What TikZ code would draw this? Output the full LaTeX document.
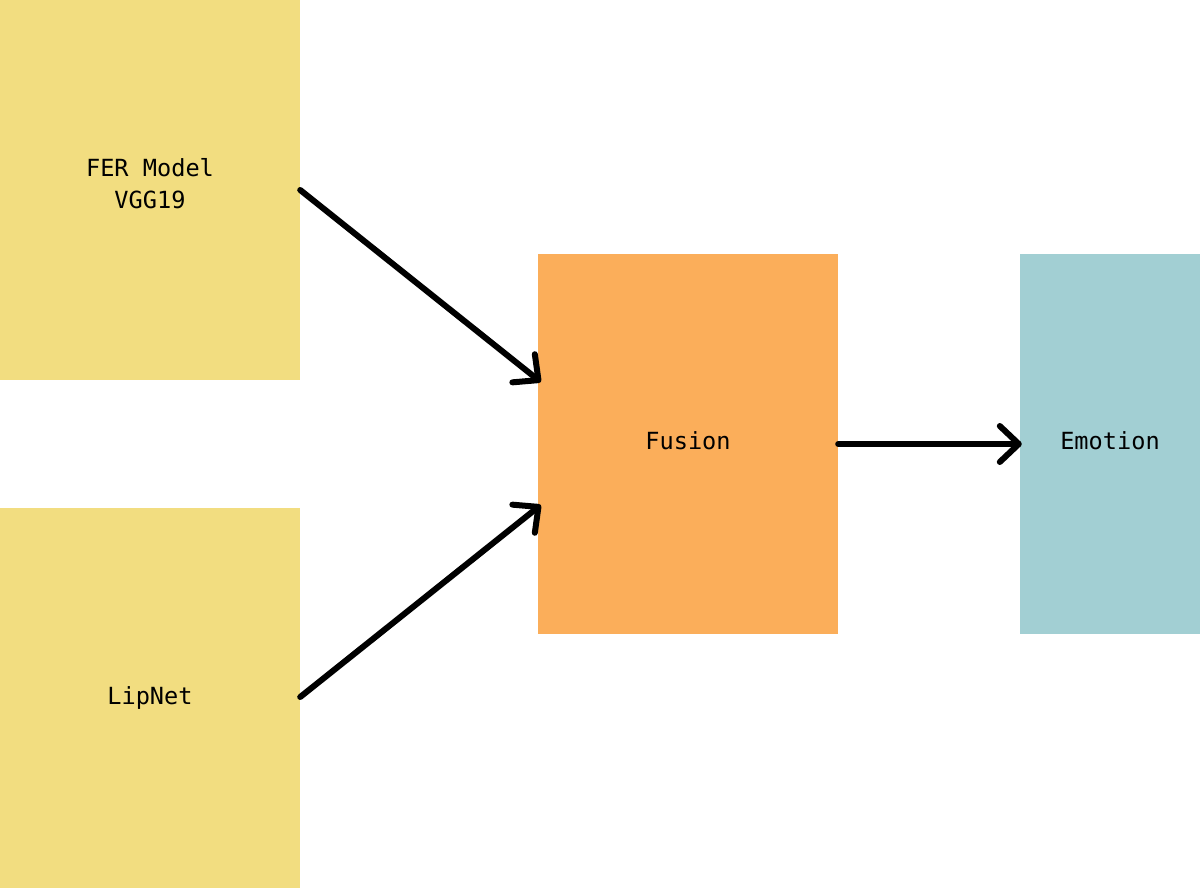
\documentclass[tikz,border=0pt]{standalone}
\usepackage{fontspec}
\setmonofont{DejaVu Sans Mono}
\usetikzlibrary{arrows.meta,calc}
\definecolor{boxyellow}{HTML}{F2DD80}
\definecolor{boxorange}{HTML}{FBAE5A}
\definecolor{boxteal}{HTML}{A2CFD3}
\tikzset{
  block/.style={rectangle, inner sep=0pt, minimum width=300pt, minimum height=380pt,
    font=\ttfamily\fontsize{23.6}{32}\selectfont, align=center, text=black},
  link/.style={line width=6pt, line cap=round, line join=round,
    -{Straight Barb[length=19pt, width=36pt, line width=6pt, round]}}
}
\begin{document}
\begin{tikzpicture}[x=1pt, y=-1pt]
\useasboundingbox (0,0) rectangle (1200,888);
\node[block, fill=boxyellow, text depth=13pt] (fer) at (150,190) {FER Model\\VGG19};
\node[block, fill=boxyellow] (lip) at (150,698) {LipNet};
\node[block, fill=boxorange, text depth=6pt] (fusion) at (688,444) {Fusion};
\node[block, fill=boxteal, minimum width=180pt, text depth=6pt] (emo) at (1110,444) {Emotion};
\coordinate (fin1) at ($(fusion.west)+(3,-62)$);
\coordinate (fin2) at ($(fusion.west)+(3,61)$);
\coordinate (ein) at ($(emo.west)+(2,0)$);
\draw[link] (fer.east) -- (fin1);
\draw[link] (lip.east |- 0,697) -- (fin2);
\draw[link] (fusion.east) -- (ein);
\end{tikzpicture}
\end{document}
